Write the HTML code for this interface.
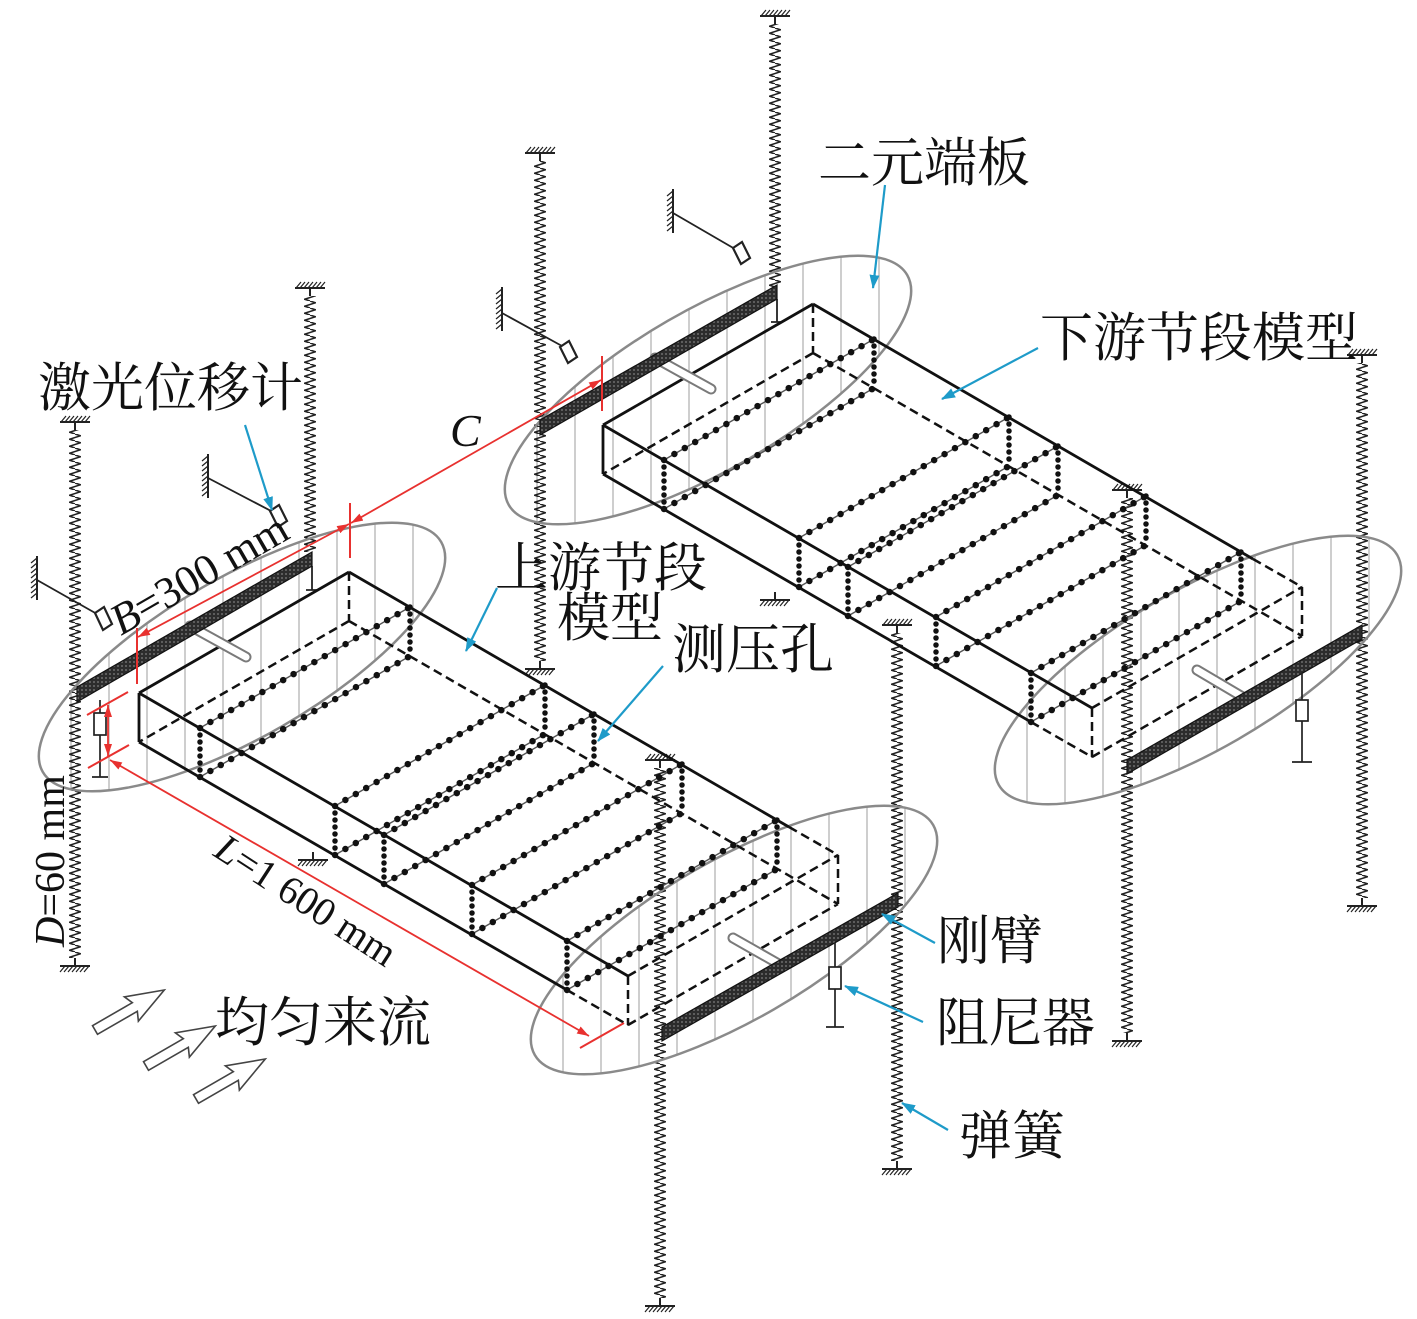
<!DOCTYPE html>
<html><head><meta charset="utf-8">
<style>
html,body{margin:0;padding:0;background:#fff;}
svg{display:block;}
.cn{font-family:"Liberation Serif","Noto Serif CJK SC","Noto Sans CJK SC",serif;font-size:53px;fill:#111;}
.lt{font-family:"Liberation Serif",serif;fill:#111;}
</style></head><body>
<svg width="1417" height="1319" viewBox="0 0 1417 1319" xmlns="http://www.w3.org/2000/svg">
<defs>
  <pattern id="spr" width="12" height="7" patternUnits="userSpaceOnUse">
    <path d="M6,0 L11.5,1.75 L0.5,5.25 L6,7" fill="none" stroke="#222" stroke-width="1.5"/>
  </pattern>
  <pattern id="vh" width="38" height="20" patternUnits="userSpaceOnUse">
    <path d="M19,0V20" stroke="#c2c2c2" stroke-width="1.6"/>
  </pattern>
  <pattern id="armp" width="4" height="4" patternUnits="userSpaceOnUse">
    <rect width="4" height="4" fill="#2c2c2c"/>
    <circle cx="2" cy="2" r="0.9" fill="#808080"/>
  </pattern>
  <clipPath id="ec"><ellipse rx="230" ry="80" transform="rotate(-30)"/></clipPath>
  <g id="gt">
    <path d="M-15,0H15M0,0V8" stroke="#222" stroke-width="2" fill="none"/>
    <path d="M-14,0l5,-6M-10,0l5,-6M-6,0l5,-6M-2,0l5,-6M2,0l5,-6M6,0l5,-6M10,0l5,-6" stroke="#222" stroke-width="1.2"/>
  </g>
  <g id="gb">
    <path d="M-15,0H15M0,0V-8" stroke="#222" stroke-width="2" fill="none"/>
    <path d="M-15,6l5,-6M-11,6l5,-6M-7,6l5,-6M-3,6l5,-6M1,6l5,-6M5,6l5,-6M9,6l5,-6" stroke="#222" stroke-width="1.2"/>
  </g>
  <g id="gs">
    <path d="M0,-22V22" stroke="#222" stroke-width="2"/>
    <path d="M0,-20l-6,5M0,-15l-6,5M0,-10l-6,5M0,-5l-6,5M0,0l-6,5M0,5l-6,5M0,10l-6,5M0,15l-6,5" stroke="#222" stroke-width="1.2"/>
  </g>
  <marker id="mr" viewBox="0 0 12 8" refX="12" refY="4" markerWidth="12" markerHeight="8" markerUnits="userSpaceOnUse" orient="auto-start-reverse">
    <path d="M0,0L12,4L0,8z" fill="#e8312f"/>
  </marker>
  <marker id="mb" viewBox="0 0 14 10" refX="13" refY="5" markerWidth="14" markerHeight="10" markerUnits="userSpaceOnUse" orient="auto">
    <path d="M0,0L14,5L0,10z" fill="#1e9bc9"/>
  </marker>
  <g id="boxU" fill="none" stroke="#111">
    <path d="M200,728L410,607M200,777L410,656M335,806L545,685M335,855L545,734M384,835L594,714M384,884L594,763M472,885L682,764M472,934L682,813M567,941L777,820M567,990L777,869" stroke="#555" stroke-width="1.4"/>
    <path d="M200,728L410,607M200,777L410,656M335,806L545,685M335,855L545,734M384,835L594,714M384,884L594,763M472,885L682,764M472,934L682,813M567,941L777,820M567,990L777,869" stroke-width="6.5" stroke-dasharray="0 12" stroke-linecap="round"/>
    <path d="M200,728V777M410,607V656M335,806V855M545,685V734M384,835V884M594,714V763M472,885V934M682,764V813M567,941V990M777,820V869" stroke-width="5.5" stroke-dasharray="0 7" stroke-linecap="round"/>
    <path d="M349,572V621M349,621L139,742M349,621L838,904M628,976V1025M628,976L838,855M838,855V904M628,1025L838,904M567,990L628,1025M789,827L838,855" stroke-width="2.5" stroke-dasharray="9 5"/>
    <path d="M139,693L349,572M139,693V742M139,693L628,976M139,742L567,990M349,572L789,827" stroke-width="2.8"/>
  </g>
</defs>

<!-- ellipse hatches -->
<g transform="translate(242,657)"><rect x="-215" y="-140" width="430" height="280" fill="url(#vh)" clip-path="url(#ec)"/></g>
<g transform="translate(708,390)"><rect x="-215" y="-140" width="430" height="280" fill="url(#vh)" clip-path="url(#ec)"/></g>
<g transform="translate(734,940)"><rect x="-215" y="-140" width="430" height="280" fill="url(#vh)" clip-path="url(#ec)"/></g>
<g transform="translate(1198,670)"><rect x="-215" y="-140" width="430" height="280" fill="url(#vh)" clip-path="url(#ec)"/></g>

<!-- springs -->
<rect transform="translate(69,0)" x="0" y="430" width="12" height="528" fill="url(#spr)"/>
<rect transform="translate(304,0)" x="0" y="296" width="12" height="256" fill="url(#spr)"/>
<rect transform="translate(534,0)" x="0" y="161" width="12" height="500" fill="url(#spr)"/>
<rect transform="translate(769,0)" x="0" y="24" width="12" height="263" fill="url(#spr)"/>
<rect transform="translate(1121,0)" x="0" y="498" width="12" height="535" fill="url(#spr)"/>
<rect transform="translate(1356,0)" x="0" y="363" width="12" height="535" fill="url(#spr)"/>
<rect transform="translate(654,0)" x="0" y="768" width="12" height="530" fill="url(#spr)"/>
<rect transform="translate(891,0)" x="0" y="633" width="12" height="528" fill="url(#spr)"/>

<use href="#gt" x="75" y="422"/><use href="#gt" x="310" y="288"/><use href="#gt" x="540" y="153"/><use href="#gt" x="775" y="16"/>
<use href="#gt" x="1127" y="490"/><use href="#gt" x="1362" y="355"/><use href="#gt" x="660" y="760"/><use href="#gt" x="897" y="625"/>
<use href="#gb" x="75" y="966"/><use href="#gb" x="540" y="669"/><use href="#gb" x="1127" y="1041"/><use href="#gb" x="1362" y="906"/>
<use href="#gb" x="660" y="1306"/><use href="#gb" x="897" y="1169"/><use href="#gb" x="313" y="860"/><use href="#gb" x="775" y="600"/>
<path d="M312,566V590M306,590H318M777,299V322M771,322H783" stroke="#222" stroke-width="1.8" fill="none"/>

<!-- ellipse outlines -->
<g fill="none" stroke="#8a8a8a" stroke-width="2.5">
  <ellipse rx="230" ry="80" transform="translate(242,657) rotate(-30)"/>
  <ellipse rx="230" ry="80" transform="translate(708,390) rotate(-30)"/>
  <ellipse rx="230" ry="80" transform="translate(734,940) rotate(-30)"/>
  <ellipse rx="230" ry="80" transform="translate(1198,670) rotate(-30)"/>
</g>

<!-- boxes -->
<use href="#boxU"/>
<use href="#boxU" transform="translate(464,-268)"/>

<!-- rods -->
<g stroke-linecap="round" fill="none">
  <path d="M190,626L246,657M655,358L711,389M777,963L733,938M1241,696L1197,670" stroke="#7a7a7a" stroke-width="11"/>
  <path d="M190,626L246,657M655,358L711,389M777,963L733,938M1241,696L1197,670" stroke="#fff" stroke-width="7"/>
</g>

<!-- arms -->
<g fill="url(#armp)" stroke="#111" stroke-width="1.2">
  <polygon points="77,687 312,552 312,566 77,702"/>
  <polygon points="540,420 777,285 777,299 540,435"/>
  <polygon points="662,1027 898,893 898,907 662,1041"/>
  <polygon points="1127,760 1362,625 1362,639 1127,774"/>
</g>

<!-- dampers -->
<g stroke="#222" stroke-width="1.7" fill="none">
  <path d="M100,700V713M100,735V777M92,777H108M96,724H104"/>
  <rect x="94" y="713" width="12" height="22" fill="#fff"/>
  <path d="M835,943V967M835,989V1027M826,1027H844M831,977H839"/>
  <rect x="829" y="967" width="12" height="22" fill="#fff"/>
  <path d="M1302,673V700M1302,721V762M1292,762H1312M1298,710H1306"/>
  <rect x="1296" y="700" width="12" height="21" fill="#fff"/>
</g>

<!-- laser sensors -->
<use href="#gs" x="37" y="578"/><use href="#gs" x="208" y="476"/><use href="#gs" x="502" y="309"/><use href="#gs" x="673" y="211"/>
<path d="M37,580L97,614M208,478L273,512M502,313L562,346M673,213L735,249" stroke="#222" stroke-width="1.8" fill="none"/>
<g fill="#fff" stroke="#222" stroke-width="2.2">
  <polygon points="95,613 104,607 112,624 103,630"/>
  <polygon points="270,511 279,505 287,521 278,527"/>
  <polygon points="560,347 569,341 577,357 568,363"/>
  <polygon points="733,248 742,242 750,258 741,264"/>
</g>

<!-- red dimensions -->
<path d="M137,628V684M350,503V558M602,356V411M87,715L128,692M88,768L129,745M580,1048L624,1023" stroke="#e8312f" stroke-width="2" fill="none"/>
<g stroke="#e8312f" stroke-width="1.8" fill="none" marker-start="url(#mr)" marker-end="url(#mr)">
  <path d="M138,637L349,524"/>
  <path d="M351,523L601,380"/>
  <path d="M108,705V756"/>
  <path d="M110,760L589,1036"/>
</g>

<!-- blue leaders -->
<g stroke="#1e9bc9" stroke-width="2.2" fill="none" marker-end="url(#mb)">
  <path d="M245,425L272,510"/>
  <path d="M885,185L873,288"/>
  <path d="M1038,348L942,399"/>
  <path d="M497,588L466,651"/>
  <path d="M663,666L598,741"/>
  <path d="M935,943L882,914"/>
  <path d="M923,1022L845,986"/>
  <path d="M948,1130L902,1103"/>
</g>

<!-- flow arrows -->
<g fill="#fff" stroke="#444" stroke-width="1.6">
  <polygon points="0,-5 46,-5 42,-14 80,0 42,14 46,5 0,5" transform="translate(95,1030) rotate(-30)"/>
  <polygon points="0,-5 46,-5 42,-14 80,0 42,14 46,5 0,5" transform="translate(146,1066) rotate(-30)"/>
  <polygon points="0,-5 46,-5 42,-14 80,0 42,14 46,5 0,5" transform="translate(196,1099) rotate(-30)"/>
</g>

<!-- text -->
<text class="cn" x="38" y="406">激光位移计</text>
<text class="cn" x="818" y="181">二元端板</text>
<text class="cn" x="1040" y="356">下游节段模型</text>
<text class="cn" x="495" y="586">上游节段</text>
<text class="cn" x="557" y="636">模型</text>
<text class="cn" x="672" y="668" style="font-size:54px">测压孔</text>
<text class="cn" x="215" y="1041" style="font-size:54px">均匀来流</text>
<text class="cn" x="937" y="959">刚臂</text>
<text class="cn" x="936" y="1041">阻尼器</text>
<text class="cn" x="959" y="1154">弹簧</text>

<text class="lt" x="450" y="446" font-size="46" font-style="italic">C</text>
<text class="lt" transform="translate(121,636) rotate(-30)" font-size="44"><tspan font-style="italic">B</tspan>=300 mm</text>
<text class="lt" transform="translate(64,947) rotate(-90)" font-size="42"><tspan font-style="italic">D</tspan>=60 mm</text>
<text class="lt" transform="translate(212,855) rotate(33)" font-size="40"><tspan font-style="italic">L</tspan>=1 600 mm</text>
</svg>
</body></html>
